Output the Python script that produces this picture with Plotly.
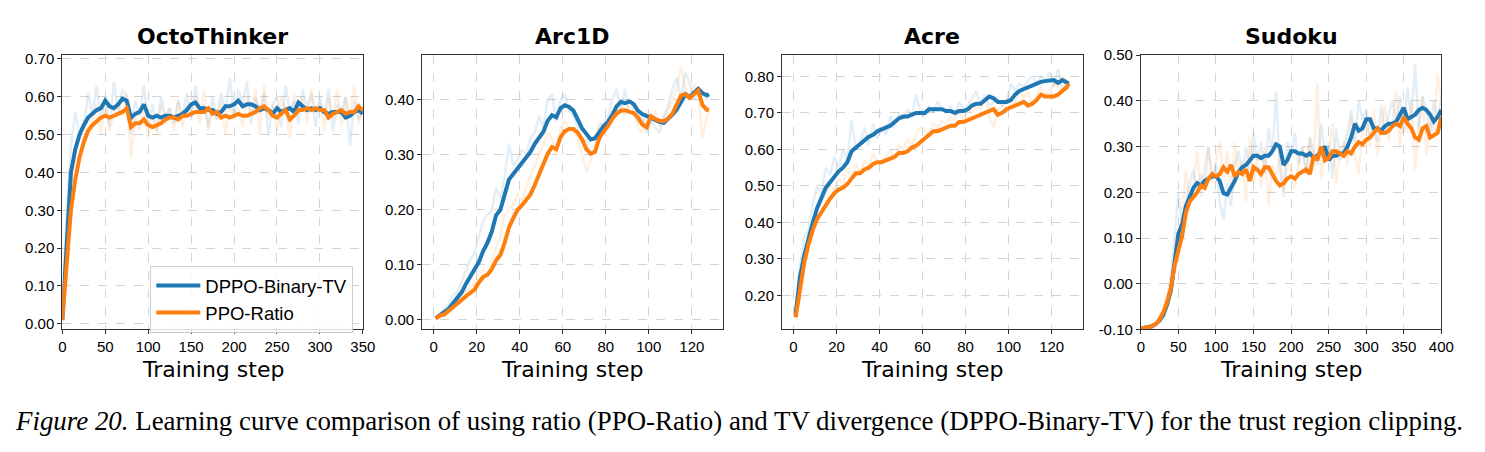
import plotly.graph_objects as go

W, H = 1485, 452

# ---------------- data ----------------
panel_titles = ["OctoThinker", "Arc1D", "Acre", "Sudoku"]
series_names = ["DPPO-Binary-TV", "PPO-Ratio"]

# OctoThinker: steps 0..350 every 5
octo_steps = list(range(0, 351, 5))
octo_dppo = [0.01, 0.22, 0.40, 0.46, 0.50, 0.525, 0.545, 0.555, 0.565, 0.57,
             0.59, 0.575, 0.57, 0.58, 0.595, 0.59, 0.545, 0.555, 0.56, 0.58,
             0.55, 0.545, 0.55, 0.545, 0.55, 0.55, 0.545, 0.55, 0.555, 0.565,
             0.58, 0.585, 0.57, 0.57, 0.565, 0.565, 0.555, 0.56, 0.575, 0.575,
             0.58, 0.59, 0.575, 0.58, 0.58, 0.575, 0.565, 0.57, 0.565, 0.555,
             0.57, 0.56, 0.565, 0.57, 0.56, 0.585, 0.575, 0.565, 0.57, 0.565,
             0.57, 0.56, 0.555, 0.56, 0.56, 0.56, 0.545, 0.55, 0.56, 0.565,
             0.555]
octo_ppo = [0.01, 0.15, 0.30, 0.38, 0.44, 0.48, 0.51, 0.525, 0.535, 0.545,
            0.55, 0.545, 0.55, 0.555, 0.56, 0.57, 0.52, 0.53, 0.53, 0.54,
            0.525, 0.52, 0.525, 0.53, 0.54, 0.545, 0.545, 0.54, 0.55, 0.55,
            0.555, 0.56, 0.56, 0.56, 0.57, 0.555, 0.56, 0.545, 0.55, 0.545,
            0.55, 0.555, 0.55, 0.55, 0.555, 0.56, 0.57, 0.575, 0.565, 0.55,
            0.545, 0.555, 0.565, 0.54, 0.55, 0.565, 0.565, 0.57, 0.565, 0.57,
            0.565, 0.565, 0.545, 0.555, 0.56, 0.565, 0.555, 0.56, 0.56, 0.575,
            0.565]
octo_dppo_raw = [0.01, 0.30, 0.47, 0.56, 0.50, 0.52, 0.61, 0.55, 0.63, 0.54,
                 0.60, 0.52, 0.64, 0.56, 0.62, 0.60, 0.50, 0.59, 0.55, 0.63,
                 0.53, 0.58, 0.51, 0.60, 0.55, 0.57, 0.53, 0.59, 0.55, 0.61,
                 0.54, 0.63, 0.56, 0.58, 0.52, 0.60, 0.54, 0.61, 0.56, 0.65,
                 0.55, 0.62, 0.58, 0.64, 0.53, 0.60, 0.56, 0.61, 0.50, 0.58,
                 0.60, 0.52, 0.63, 0.56, 0.59, 0.53, 0.62, 0.57, 0.61, 0.52,
                 0.60, 0.55, 0.62, 0.51, 0.58, 0.56, 0.60, 0.47, 0.59, 0.54,
                 0.57]
octo_ppo_raw = [0.01, 0.20, 0.36, 0.45, 0.50, 0.48, 0.55, 0.53, 0.58, 0.50,
                0.59, 0.51, 0.56, 0.58, 0.55, 0.61, 0.44, 0.55, 0.51, 0.57,
                0.49, 0.55, 0.50, 0.58, 0.53, 0.57, 0.51, 0.59, 0.52, 0.58,
                0.55, 0.60, 0.53, 0.62, 0.51, 0.57, 0.54, 0.59, 0.50, 0.58,
                0.54, 0.57, 0.52, 0.60, 0.55, 0.62, 0.50, 0.63, 0.54, 0.58,
                0.51, 0.60, 0.57, 0.49, 0.61, 0.55, 0.60, 0.53, 0.62, 0.56,
                0.59, 0.51, 0.60, 0.54, 0.62, 0.52, 0.60, 0.55, 0.63, 0.53,
                0.57]

# Arc1D / Acre: steps 1,3,...,127,128
short_steps = list(range(1, 128, 2)) + [128]
arc_dppo = [0.003, 0.008, 0.013, 0.02, 0.03, 0.04, 0.05, 0.065, 0.078, 0.092,
            0.105, 0.125, 0.14, 0.16, 0.19, 0.20, 0.225, 0.255, 0.265, 0.275,
            0.287, 0.296, 0.305, 0.32, 0.332, 0.342, 0.362, 0.372, 0.368, 0.385,
            0.39, 0.387, 0.38, 0.365, 0.348, 0.338, 0.328, 0.33, 0.342, 0.352,
            0.36, 0.372, 0.388, 0.396, 0.394, 0.397, 0.392, 0.38, 0.374, 0.37,
            0.366, 0.362, 0.36, 0.358, 0.365, 0.373, 0.382, 0.398, 0.41, 0.405,
            0.412, 0.42, 0.412, 0.408, 0.41]
arc_ppo = [0.002, 0.008, 0.01, 0.016, 0.022, 0.028, 0.036, 0.043, 0.05, 0.055,
           0.068, 0.078, 0.082, 0.092, 0.108, 0.118, 0.14, 0.168, 0.185, 0.2,
           0.208, 0.218, 0.228, 0.245, 0.265, 0.285, 0.302, 0.314, 0.31, 0.332,
           0.343, 0.347, 0.347, 0.34, 0.328, 0.31, 0.302, 0.305, 0.33, 0.342,
           0.352, 0.365, 0.375, 0.38, 0.381, 0.378, 0.376, 0.368, 0.355, 0.35,
           0.37, 0.365, 0.362, 0.361, 0.366, 0.375, 0.39, 0.408, 0.41, 0.403,
           0.41, 0.417, 0.39, 0.382, 0.381]
arc_dppo_raw = [0.003, 0.010, 0.020, 0.030, 0.045, 0.050, 0.070, 0.090, 0.110, 0.120,
                0.150, 0.180, 0.190, 0.200, 0.240, 0.220, 0.260, 0.320, 0.280, 0.290,
                0.310, 0.300, 0.330, 0.340, 0.370, 0.350, 0.400, 0.410, 0.360, 0.400,
                0.410, 0.380, 0.370, 0.350, 0.320, 0.330, 0.300, 0.310, 0.350, 0.360,
                0.370, 0.400, 0.420, 0.380, 0.420, 0.380, 0.370, 0.360, 0.370, 0.340,
                0.360, 0.350, 0.340, 0.370, 0.390, 0.420, 0.440, 0.400, 0.450, 0.430,
                0.400, 0.410, 0.410, 0.400, 0.410]
arc_ppo_raw = [0.002, 0.010, 0.012, 0.020, 0.030, 0.035, 0.040, 0.050, 0.060, 0.065,
               0.085, 0.090, 0.080, 0.110, 0.130, 0.150, 0.190, 0.200, 0.210, 0.230,
               0.215, 0.240, 0.260, 0.280, 0.300, 0.320, 0.340, 0.330, 0.300, 0.350,
               0.360, 0.350, 0.340, 0.330, 0.300, 0.270, 0.290, 0.320, 0.360, 0.350,
               0.360, 0.380, 0.370, 0.390, 0.370, 0.400, 0.380, 0.350, 0.340, 0.380,
               0.360, 0.380, 0.350, 0.370, 0.380, 0.400, 0.420, 0.460, 0.420, 0.400,
               0.430, 0.410, 0.330, 0.370, 0.380]

acre_dppo = [0.15, 0.25, 0.31, 0.36, 0.40, 0.44, 0.47, 0.495, 0.51, 0.525,
             0.54, 0.55, 0.565, 0.595, 0.605, 0.615, 0.625, 0.635, 0.64, 0.65,
             0.655, 0.66, 0.665, 0.675, 0.685, 0.69, 0.69, 0.695, 0.70, 0.70,
             0.70, 0.71, 0.71, 0.71, 0.71, 0.705, 0.705, 0.70, 0.705, 0.705,
             0.71, 0.72, 0.725, 0.725, 0.735, 0.745, 0.74, 0.73, 0.73, 0.73,
             0.735, 0.75, 0.76, 0.765, 0.77, 0.775, 0.78, 0.785, 0.787, 0.788,
             0.79, 0.782, 0.79, 0.783, 0.78]
acre_ppo = [0.14, 0.22, 0.29, 0.34, 0.38, 0.41, 0.43, 0.45, 0.465, 0.48,
            0.49, 0.495, 0.505, 0.52, 0.535, 0.535, 0.545, 0.55, 0.56, 0.565,
            0.565, 0.57, 0.575, 0.58, 0.59, 0.59, 0.595, 0.605, 0.61, 0.62,
            0.63, 0.64, 0.65, 0.65, 0.655, 0.66, 0.665, 0.665, 0.675, 0.675,
            0.68, 0.685, 0.69, 0.695, 0.70, 0.705, 0.71, 0.695, 0.70, 0.71,
            0.715, 0.72, 0.725, 0.73, 0.72, 0.725, 0.735, 0.75, 0.745, 0.745,
            0.745, 0.75, 0.76, 0.77, 0.78]
acre_dppo_raw = [0.15, 0.28, 0.36, 0.38, 0.45, 0.50, 0.48, 0.55, 0.53, 0.58,
                 0.55, 0.60, 0.57, 0.68, 0.60, 0.62, 0.66, 0.61, 0.67, 0.63,
                 0.66, 0.64, 0.69, 0.66, 0.70, 0.68, 0.71, 0.69, 0.75, 0.70,
                 0.69, 0.72, 0.70, 0.73, 0.71, 0.70, 0.72, 0.69, 0.73, 0.71,
                 0.72, 0.74, 0.76, 0.72, 0.75, 0.72, 0.73, 0.74, 0.72, 0.73,
                 0.78, 0.76, 0.78, 0.77, 0.79, 0.80, 0.78, 0.80, 0.79, 0.81,
                 0.77, 0.82, 0.76, 0.79, 0.78]
acre_ppo_raw = [0.14, 0.24, 0.31, 0.37, 0.40, 0.44, 0.46, 0.47, 0.50, 0.49,
                0.52, 0.50, 0.55, 0.52, 0.56, 0.53, 0.57, 0.55, 0.59, 0.56,
                0.57, 0.58, 0.60, 0.57, 0.61, 0.60, 0.63, 0.61, 0.64, 0.66,
                0.65, 0.64, 0.67, 0.66, 0.68, 0.67, 0.69, 0.68, 0.70, 0.68,
                0.71, 0.70, 0.72, 0.71, 0.74, 0.69, 0.66, 0.71, 0.72, 0.74,
                0.72, 0.73, 0.76, 0.74, 0.76, 0.72, 0.75, 0.77, 0.75, 0.76,
                0.78, 0.77, 0.80, 0.79, 0.78]

# Sudoku: steps 0..400 every 5
sudoku_steps = list(range(0, 401, 5))
sudoku_dppo = [-0.098, -0.097, -0.095, -0.093, -0.088, -0.08, -0.068, -0.045, -0.015, 0.05,
               0.11, 0.13, 0.17, 0.19, 0.21, 0.22, 0.215, 0.225, 0.23, 0.235,
               0.235, 0.225, 0.198, 0.195, 0.21, 0.225, 0.245, 0.255, 0.26, 0.27,
               0.28, 0.28, 0.275, 0.28, 0.28, 0.29, 0.305, 0.30, 0.26, 0.27,
               0.29, 0.29, 0.285, 0.285, 0.28, 0.285, 0.275, 0.28, 0.29, 0.30,
               0.27, 0.28, 0.28, 0.285, 0.285, 0.30, 0.32, 0.35, 0.335, 0.34,
               0.36, 0.36, 0.34, 0.34, 0.335, 0.345, 0.35, 0.35, 0.355, 0.37,
               0.385, 0.36, 0.365, 0.37, 0.38, 0.385, 0.38, 0.37, 0.355, 0.365,
               0.38]
sudoku_ppo = [-0.098, -0.097, -0.095, -0.092, -0.088, -0.078, -0.062, -0.04, -0.01, 0.04,
              0.075, 0.105, 0.155, 0.18, 0.19, 0.20, 0.215, 0.21, 0.23, 0.24,
              0.235, 0.24, 0.255, 0.245, 0.26, 0.235, 0.245, 0.24, 0.25, 0.225,
              0.255, 0.25, 0.24, 0.255, 0.255, 0.24, 0.225, 0.215, 0.22, 0.23,
              0.235, 0.23, 0.24, 0.245, 0.25, 0.24, 0.28, 0.27, 0.30, 0.27,
              0.275, 0.29, 0.29, 0.285, 0.28, 0.29, 0.285, 0.30, 0.31, 0.305,
              0.315, 0.32, 0.33, 0.34, 0.33, 0.33, 0.335, 0.345, 0.35, 0.345,
              0.365, 0.35, 0.34, 0.32, 0.315, 0.34, 0.345, 0.32, 0.325, 0.33,
              0.365]
sudoku_dppo_raw = [-0.098, -0.096, -0.094, -0.09, -0.085, -0.075, -0.06, -0.03, 0.02, 0.10,
                   0.20, 0.12, 0.18, 0.22, 0.25, 0.20, 0.24, 0.21, 0.30, 0.23,
                   0.26, 0.18, 0.14, 0.22, 0.17, 0.26, 0.29, 0.24, 0.30, 0.25,
                   0.33, 0.27, 0.31, 0.24, 0.34, 0.28, 0.42, 0.25, 0.20, 0.31,
                   0.28, 0.33, 0.26, 0.30, 0.24, 0.32, 0.29, 0.26, 0.35, 0.29,
                   0.31, 0.23, 0.34, 0.27, 0.30, 0.33, 0.38, 0.31, 0.40, 0.36,
                   0.38, 0.32, 0.34, 0.31, 0.39, 0.33, 0.37, 0.40, 0.35, 0.41,
                   0.33, 0.43, 0.36, 0.48, 0.34, 0.41, 0.38, 0.33, 0.40, 0.36,
                   0.41]
sudoku_ppo_raw = [-0.098, -0.096, -0.093, -0.09, -0.086, -0.07, -0.055, -0.03, 0.01, 0.07,
                  0.10, 0.15, 0.25, 0.17, 0.22, 0.29, 0.19, 0.26, 0.30, 0.22,
                  0.27, 0.31, 0.23, 0.29, 0.20, 0.31, 0.24, 0.27, 0.18, 0.32,
                  0.22, 0.28, 0.21, 0.30, 0.17, 0.26, 0.23, 0.29, 0.19, 0.27,
                  0.25, 0.21, 0.26, 0.30, 0.24, 0.32, 0.26, 0.44, 0.23, 0.30,
                  0.27, 0.35, 0.22, 0.29, 0.31, 0.26, 0.37, 0.28, 0.24, 0.33,
                  0.36, 0.30, 0.38, 0.28, 0.34, 0.39, 0.31, 0.36, 0.42, 0.30,
                  0.38, 0.33, 0.40, 0.25, 0.35, 0.41, 0.28, 0.36, 0.33, 0.46,
                  0.40]

x_ticks = [[0, 50, 100, 150, 200, 250, 300, 350],
           [0, 20, 40, 60, 80, 100, 120],
           [0, 20, 40, 60, 80, 100, 120],
           [0, 50, 100, 150, 200, 250, 300, 350, 400]]
y_ticks = [[0.0, 0.1, 0.2, 0.3, 0.4, 0.5, 0.6, 0.7],
           [0.0, 0.1, 0.2, 0.3, 0.4],
           [0.2, 0.3, 0.4, 0.5, 0.6, 0.7, 0.8],
           [-0.1, 0.0, 0.1, 0.2, 0.3, 0.4, 0.5]]
x_ranges = [[0, 350], [-5.35, 134.35], [-5.35, 134.35], [0, 400]]
y_ranges = [[-0.015, 0.71], [-0.0175, 0.481], [0.107, 0.858], [-0.10, 0.50]]

caption = ("<i>Figure 20.</i> Learning curve comparison of using ratio (PPO-Ratio) and "
           "TV divergence (DPPO-Binary-TV) for the trust region clipping.")

panels = [
    (octo_steps, octo_dppo, octo_ppo, octo_dppo_raw, octo_ppo_raw),
    (short_steps, arc_dppo, arc_ppo, arc_dppo_raw, arc_ppo_raw),
    (short_steps, acre_dppo, acre_ppo, acre_dppo_raw, acre_ppo_raw),
    (sudoku_steps, sudoku_dppo, sudoku_ppo, sudoku_dppo_raw, sudoku_ppo_raw),
]
for p in panels:
    for arr in p[1:]:
        assert len(arr) == len(p[0]), (len(arr), len(p[0]))

# ---------------- figure ----------------
BLUE = "#1f77b4"
ORANGE = "#ff7f0e"
TICK_FONT = dict(family="Liberation Sans, Arial, sans-serif", size=15, color="black")

x_px = [(59, 363), (423, 727), (787, 1091), (1150, 1454)]
y_top, y_bot = 48, 333
y_dom = [1 - y_bot / H, 1 - y_top / H]

fig = go.Figure()
for i, (steps, d, p, draw, praw) in enumerate(panels):
    xa = "x" if i == 0 else f"x{i+1}"
    ya = "y" if i == 0 else f"y{i+1}"
    fig.add_trace(go.Scatter(x=steps, y=draw, mode="lines", xaxis=xa, yaxis=ya,
                             line=dict(color=BLUE, width=2.5), opacity=0.12,
                             showlegend=False, hoverinfo="skip"))
    fig.add_trace(go.Scatter(x=steps, y=praw, mode="lines", xaxis=xa, yaxis=ya,
                             line=dict(color=ORANGE, width=2.5), opacity=0.12,
                             showlegend=False, hoverinfo="skip"))
    fig.add_trace(go.Scatter(x=steps, y=d, mode="lines", xaxis=xa, yaxis=ya,
                             line=dict(color=BLUE, width=4),
                             name=series_names[0], showlegend=(i == 0)))
    fig.add_trace(go.Scatter(x=steps, y=p, mode="lines", xaxis=xa, yaxis=ya,
                             line=dict(color=ORANGE, width=4),
                             name=series_names[1], showlegend=(i == 0)))

    axis_common = dict(showline=True, linecolor="#333333", linewidth=1, mirror=True,
                       ticks="outside", ticklen=4, tickcolor="#333333", tickwidth=1,
                       showgrid=True, gridcolor="#d4d4d4", gridwidth=0.8, griddash="dash",
                       zeroline=False, tickfont=TICK_FONT)
    xl, xr = x_px[i]
    fig.layout[("xaxis" if i == 0 else f"xaxis{i+1}")] = dict(
        domain=[xl / W, xr / W], anchor=ya, range=x_ranges[i],
        tickvals=x_ticks[i], ticktext=[str(v) for v in x_ticks[i]], **axis_common)
    fig.layout[("yaxis" if i == 0 else f"yaxis{i+1}")] = dict(
        domain=y_dom, anchor=xa, range=y_ranges[i],
        tickvals=y_ticks[i], ticktext=[f"{v:.2f}" for v in y_ticks[i]], **axis_common)

    cx = (xl + xr) / 2 / W
    fig.add_annotation(text=f"<b>{panel_titles[i]}</b>", x=cx, y=1 - 29 / H,
                       xref="paper", yref="paper", showarrow=False,
                       xanchor="center", yanchor="middle",
                       font=dict(family="DejaVu Sans", size=22, color="black"))
    fig.add_annotation(text="Training step", x=cx, y=1 - 375 / H,
                       xref="paper", yref="paper", showarrow=False,
                       xanchor="center", yanchor="middle",
                       font=dict(family="DejaVu Sans", size=22, color="black"))

fig.add_annotation(text=caption, x=744 / W, y=1 - 428 / H, xref="paper", yref="paper",
                   showarrow=False, xanchor="center", yanchor="middle",
                   font=dict(family="Liberation Serif, Times New Roman, serif", size=26.9,
                             color="black"))

fig.update_layout(
    width=W, height=H, margin=dict(l=0, r=0, t=0, b=0),
    paper_bgcolor="white", plot_bgcolor="white",
    legend=dict(x=148 / W, y=1 - 267 / H, xanchor="left", yanchor="top",
                bgcolor="rgba(255,255,255,0.85)", bordercolor="#cccccc", borderwidth=1,
                font=dict(family="Liberation Sans, Arial, sans-serif", size=18.5, color="black"),
                itemwidth=44, tracegroupgap=0),
)

fig.write_html("out.html")
